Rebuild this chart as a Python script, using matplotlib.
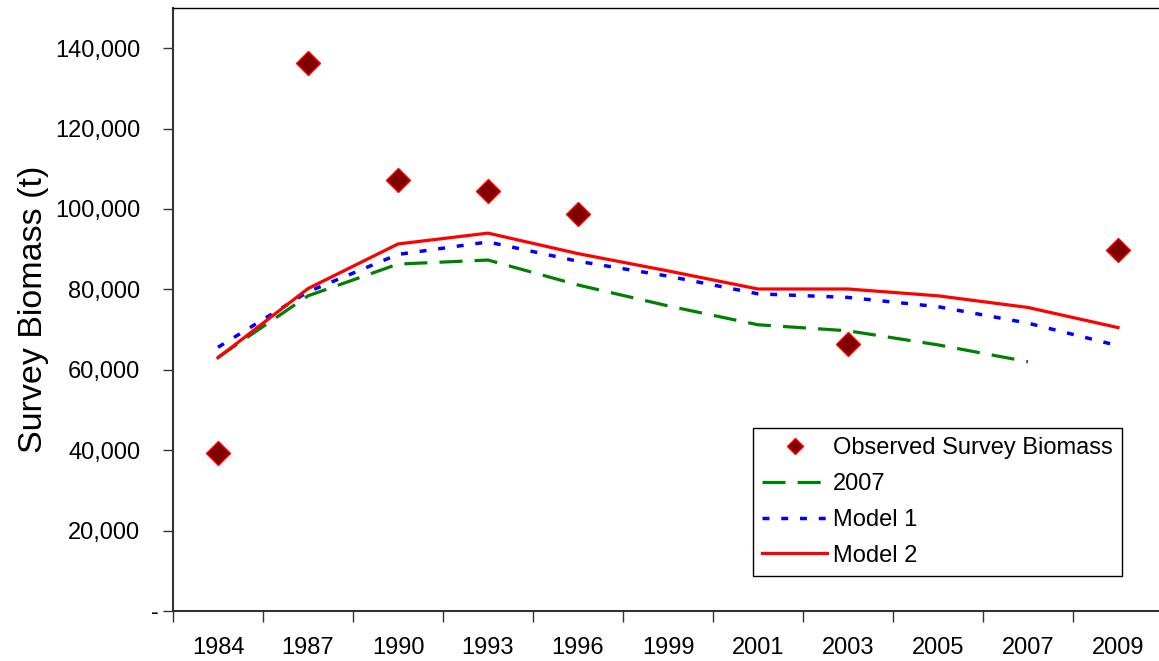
import numpy as np
import matplotlib
matplotlib.use('Agg')
import matplotlib.pyplot as plt

plt.rcParams['font.family'] = ['Liberation Sans', 'DejaVu Sans']

years = ['1984', '1987', '1990', '1993', '1996', '1999', '2001', '2003', '2005', '2007', '2009']
nan = np.nan
observed = [39400, 136400, 107200, 104500, 98800, nan, nan, 66500, nan, nan, 89900]
model_2007 = [63100, 78400, 86300, 87300, 81100, 75900, 71200, 69700, 66200, 62000, nan]
model_1 = [65600, 79400, 88700, 91800, 87000, 83300, 78900, 78000, 75700, 71600, 66000]
model_2 = [63000, 80200, 91300, 94000, 88900, 84600, 80100, 80100, 78400, 75500, 70500]
y_ticks = [0, 20000, 40000, 60000, 80000, 100000, 120000, 140000]

W, H = 1159, 661
fig = plt.figure(figsize=(W / 100, H / 100), dpi=100)
ax = fig.add_axes([173 / W, 1 - 611 / H, 990 / W, (611 - 8) / H])

x = np.arange(len(years))
l_green, = ax.plot(x, model_2007, color='#008000', lw=2.3, dashes=(7.2, 3.8),
                   solid_capstyle='butt', dash_capstyle='butt', label='2007')
l_blue, = ax.plot(x, model_1, color='#0000FF', lw=2.5, dashes=(2.0, 3.4),
                  dash_capstyle='butt', label='Model 1')
l_red, = ax.plot(x, model_2, color='#FF0000', lw=2.3, label='Model 2')
l_obs, = ax.plot(x, observed, linestyle='none', marker='D', markersize=12,
                 markerfacecolor='#800000', markeredgecolor='#FF0000',
                 markeredgewidth=1.0, label='Observed Survey Biomass', zorder=5)

ax.set_xlim(-0.5, 10.5)
ax.set_ylim(0, 150000)

ax.set_xticks(np.arange(-0.5, 11, 1))
ax.set_xticks(x, minor=True)
ax.set_xticklabels(years, minor=True)
ax.tick_params(axis='x', which='major', length=8, width=1, color='#333333',
               direction='out', labelbottom=False)
ax.tick_params(axis='x', which='minor', length=0, pad=19, labelsize=17,
               labelcolor='black')

ax.set_yticks(y_ticks)
ax.set_yticklabels(['' if v == 0 else f'{v:,}' for v in y_ticks])
ax.tick_params(axis='y', length=7, width=1, color='#333333', direction='out',
               pad=16.5, labelsize=17, labelcolor='black')
ax.annotate('-', xy=(0, 0), xycoords=ax.get_yaxis_transform(),
            xytext=(-18, 0), textcoords='offset pixels', ha='center',
            va='center_baseline', fontsize=17, color='black')

ax.set_ylabel('Survey Biomass (t)', fontsize=24.5, color='black')
ax.yaxis.set_label_coords((49 - 173) / 990, 0.5)

for s in ['left', 'bottom']:
    ax.spines[s].set_color('#333333')
    ax.spines[s].set_linewidth(1.5)
ax.spines['top'].set_color('black')
ax.spines['top'].set_linewidth(1.0)
ax.spines['right'].set_visible(False)

leg = ax.legend(handles=[l_obs, l_green, l_blue, l_red], loc='upper left',
                bbox_to_anchor=(753 / W, 1 - 428 / H), bbox_transform=fig.transFigure,
                borderaxespad=0, fontsize=17, fancybox=False, edgecolor='black',
                framealpha=1, handlelength=2.75, handletextpad=0.25,
                labelspacing=0.58, borderpad=0.4, markerscale=0.72, numpoints=1)
leg.get_frame().set_linewidth(1.0)

fig.savefig('out.png', dpi=100)
